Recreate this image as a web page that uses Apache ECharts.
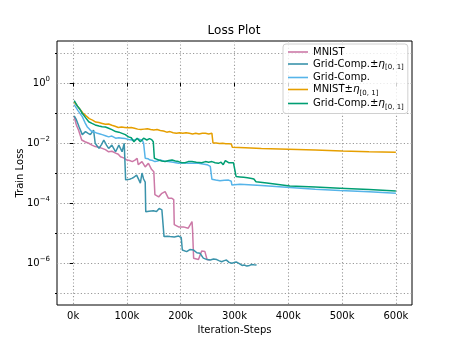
<!DOCTYPE html>
<html>
<head>
<meta charset="utf-8">
<script src="https://cdn.jsdelivr.net/npm/echarts@6/dist/echarts.min.js"></script>
<style>
  html, body { margin: 0; background: #fff; }
  #chart { width: 458px; height: 343px; }
</style>
</head>
<body>
<div id="chart"></div>
<script>
// x = iteration steps in thousands, y = train loss
const xTicks = [0, 100, 200, 300, 400, 500, 600]
const yMajorExps = [-6, -4, -2, 0]
const yMinorExps = [-7, -5, -3, -1, 1]

const mnist = [
  [2, 7.5e-2], [6, 4.0e-2], [10, 2.7e-2], [16, 1.26e-2], [22, 1.1e-2], [29, 9.8e-3],
  [35, 8.5e-3], [41, 7.6e-3], [48, 7.2e-3], [54, 6.6e-3], [60, 6.0e-3], [66, 5.1e-3],
  [72, 5.3e-3], [79, 4.6e-3], [84, 4.2e-3], [88, 3.5e-3], [94, 3.2e-3], [100, 2.7e-3],
  [105, 2.6e-3], [110, 2.4e-3], [115, 2.7e-3], [119, 3.1e-3], [121, 1.9e-3], [128, 2.4e-3],
  [134, 1.6e-3], [140, 2.1e-3], [146, 1.3e-3], [150, 1.1e-3], [152, 1.9e-4], [159, 1.6e-4],
  [165, 2.1e-4], [171, 2.4e-4], [177, 1.45e-4], [183, 1.45e-4], [187, 1.3e-4], [188, 1.9e-5],
  [196, 1.6e-5], [205, 1.6e-5], [214, 1.45e-5], [221, 2.4e-5], [222, 1.3e-5], [224, 1.45e-6],
  [233, 1.3e-6], [239, 2.5e-6], [245, 2.4e-6], [249, 1.3e-6], [254, 1.25e-6]
]

const gridEtaA = [
  [2, 8.0e-2], [6, 6.0e-2], [11, 3.5e-2], [17, 1.9e-2], [23, 2.4e-2], [28, 2.1e-2],
  [32, 1.9e-2], [38, 2.7e-2], [41, 9.8e-3], [48, 6.6e-3], [53, 9.0e-3], [57, 1.26e-2],
  [62, 8.5e-3], [66, 6.6e-3], [72, 8.5e-3], [79, 5.1e-3], [85, 8.5e-3], [91, 5.1e-3],
  [95, 9.8e-3], [97.6, 5.9e-4], [100, 5.5e-4], [105, 6.2e-4], [109, 6.6e-4], [113, 7.2e-4],
  [118, 8.5e-4], [122, 6.0e-4], [125, 4.6e-4], [128, 1.0e-3], [131, 6.3e-4], [134, 5.0e-4],
  [135, 5.1e-5], [141, 5.3e-5], [149, 5.5e-5], [155, 5.2e-5], [160, 6.6e-5], [165, 5.9e-5],
  [168, 6.2e-5], [169, 7.6e-6], [175, 7.8e-6], [180, 7.6e-6], [188, 7.3e-6], [196, 7.9e-6],
  [198, 9.0e-6], [201, 7.1e-6], [203, 2.7e-6], [211, 2.4e-6], [217, 2.8e-6], [224, 2.7e-6],
  [230, 2.2e-6], [236, 2.1e-6], [242, 1.45e-6], [249, 1.3e-6], [255, 1.26e-6], [261, 1.35e-6],
  [267, 1.3e-6], [271, 1.2e-6], [276, 1.1e-6], [281, 1.2e-6], [285, 1.25e-6], [290, 1.05e-6],
  [295, 9.8e-7], [300, 1.05e-6], [304, 1.07e-6], [309, 9.5e-7], [314, 8.3e-7], [318, 8.6e-7],
  [323, 7.9e-7], [328, 8.3e-7], [332, 8.9e-7], [336, 8.7e-7], [341, 8.5e-7]
]

const gridComp = [
  [2, 1.9e-1], [9, 1.2e-1], [17, 7.6e-2], [22, 4.8e-2], [26, 3.5e-2], [31, 2.8e-2],
  [35, 2.4e-2], [40, 2.3e-2], [45, 2.1e-2], [50, 2.0e-2], [54, 1.9e-2], [60, 1.75e-2],
  [66, 1.6e-2], [72, 1.7e-2], [79, 1.45e-2], [85, 1.5e-2], [91, 1.45e-2], [97, 1.4e-2],
  [103, 1.3e-2], [109, 1.26e-2], [115, 1.26e-2], [120, 1.4e-2], [125, 1.3e-2], [129, 1.2e-2],
  [131, 9.8e-3], [134, 3.1e-3], [139, 3.0e-3], [143, 2.7e-3], [148, 2.6e-3], [152, 2.4e-3],
  [157, 2.5e-3], [162, 2.7e-3], [168, 2.5e-3], [177, 2.4e-3], [186, 2.3e-3], [196, 2.1e-3],
  [205, 2.2e-3], [214, 2.1e-3], [224, 2.1e-3], [233, 2.1e-3], [241, 2.0e-3], [249, 1.9e-3],
  [255, 1.66e-3], [258, 6.2e-4], [265, 5.8e-4], [273, 5.5e-4], [281, 5.7e-4], [289, 5.8e-4],
  [294, 5.3e-4], [295, 4.0e-4], [310, 4.2e-4], [350, 3.8e-4], [403, 3.3e-4], [450, 2.9e-4],
  [496, 2.6e-4], [550, 2.35e-4], [600, 2.1e-4]
]

const mnistEta = [
  [2, 2.3e-1], [8, 1.7e-1], [13, 1.3e-1], [18, 1.0e-1], [24, 8.0e-2], [30, 6.5e-2],
  [36, 5.8e-2], [42, 5.0e-2], [48, 4.8e-2], [54, 4.5e-2], [60, 4.2e-2], [66, 4.3e-2],
  [72, 3.9e-2], [78, 3.6e-2], [84, 3.3e-2], [90, 3.4e-2], [96, 3.3e-2], [102, 3.2e-2],
  [108, 3.3e-2], [114, 3.1e-2], [120, 2.9e-2], [126, 2.8e-2], [132, 2.9e-2], [138, 3.0e-2],
  [144, 2.8e-2], [150, 2.7e-2], [156, 2.8e-2], [162, 2.6e-2], [168, 2.5e-2], [174, 2.3e-2],
  [180, 2.4e-2], [186, 2.2e-2], [192, 2.1e-2], [198, 2.2e-2], [204, 2.1e-2], [210, 2.2e-2],
  [216, 2.1e-2], [222, 2.0e-2], [228, 2.1e-2], [234, 2.0e-2], [240, 2.1e-2], [246, 2.1e-2],
  [252, 2.0e-2], [258, 2.1e-2], [260, 1.0e-2], [266, 1.0e-2], [272, 9.7e-3], [278, 9.8e-3],
  [284, 9.5e-3], [290, 9.4e-3], [294, 9.3e-3], [296, 7.2e-3], [320, 6.9e-3], [350, 6.5e-3],
  [400, 6.2e-3], [450, 5.8e-3], [500, 5.4e-3], [550, 5.1e-3], [600, 4.9e-3]
]

const gridEtaB = [
  [2, 2.6e-1], [8, 1.7e-1], [13, 1.3e-1], [17, 9.8e-2], [23, 7.0e-2], [29, 5.1e-2],
  [35, 4.5e-2], [41, 4.0e-2], [48, 3.7e-2], [54, 3.5e-2], [60, 3.4e-2], [66, 3.1e-2],
  [72, 2.8e-2], [79, 2.4e-2], [85, 2.3e-2], [91, 2.1e-2], [97, 1.9e-2], [103, 1.6e-2],
  [108, 1.5e-2], [113, 1.1e-2], [119, 1.45e-2], [125, 1.1e-2], [131, 1.45e-2], [137, 1.26e-2],
  [142, 1.4e-2], [146, 1.3e-2], [149, 1.1e-2], [151, 3.1e-3], [155, 2.9e-3], [159, 2.7e-3],
  [165, 2.5e-3], [171, 2.4e-3], [178, 2.6e-3], [184, 2.7e-3], [190, 2.5e-3], [196, 2.4e-3],
  [202, 2.2e-3], [208, 2.2e-3], [214, 2.4e-3], [221, 2.4e-3], [229, 2.3e-3], [239, 2.2e-3],
  [246, 2.4e-3], [252, 2.3e-3], [258, 2.4e-3], [264, 2.2e-3], [270, 2.1e-3], [275, 2.3e-3],
  [279, 1.9e-3], [283, 2.6e-3], [285, 2.4e-3], [289, 2.2e-3], [292, 2.1e-3], [298, 2.2e-3],
  [301, 2.0e-3], [303, 7.6e-4], [310, 7.4e-4], [317, 7.2e-4], [324, 7.0e-4], [332, 6.6e-4],
  [336, 6.3e-4], [340, 5.1e-4], [360, 4.6e-4], [403, 3.7e-4], [450, 3.4e-4], [496, 3.1e-4],
  [550, 2.8e-4], [600, 2.5e-4]
]

const FONT = 'DejaVu Sans'
const etaLabel = (head) => `{t|${head}±}{i|η}{s|[0, 1]}`
const legendText = {
  mnist: '{t|MNIST}',
  gridEtaA: etaLabel('Grid-Comp.'),
  gridComp: '{t|Grid-Comp.}',
  mnistEta: etaLabel('MNIST'),
  gridEtaB: etaLabel('Grid-Comp.')
}

const lines = [
  { name: 'mnist', data: mnist, color: '#CC79A7' },
  { name: 'gridEtaA', data: gridEtaA, color: '#3a93ab' },
  { name: 'gridComp', data: gridComp, color: '#56B4E9' },
  { name: 'mnistEta', data: mnistEta, color: '#E69F00' },
  { name: 'gridEtaB', data: gridEtaB, color: '#009E73' }
]

const dotted = { type: [1.2, 2.2], color: '#9a9a9a', width: 1.1 }

const chart = echarts.init(document.getElementById('chart'))
chart.setOption({
  animation: false,
  title: {
    text: 'Loss Plot', left: 234, top: 25, padding: 0, textAlign: 'center',
    textStyle: { fontFamily: FONT, fontSize: 12, fontWeight: 'normal', color: '#000' }
  },
  grid: {
    left: 57, right: 46, top: 41, bottom: 38,
    show: true, borderColor: '#000', borderWidth: 1, backgroundColor: '#fff'
  },
  legend: {
    orient: 'vertical', left: 283, top: 44,
    padding: [3, 4, 3, 5], itemGap: 1.5, itemWidth: 20, itemHeight: 1.6,
    icon: 'rect',
    backgroundColor: 'rgba(255,255,255,0.8)', borderColor: '#d0d0d0', borderWidth: 1, borderRadius: 3,
    data: lines.map(l => l.name),
    formatter: name => legendText[name],
    textStyle: {
      rich: {
        t: { fontFamily: FONT, fontSize: 10, color: '#000', lineHeight: 14 },
        i: { fontFamily: FONT, fontSize: 10.5, fontStyle: 'italic', color: '#000', lineHeight: 14 },
        s: { fontFamily: FONT, fontSize: 7, color: '#000', lineHeight: 8, verticalAlign: 'bottom' }
      }
    }
  },
  xAxis: {
    type: 'value', min: -30, max: 630,
    name: 'Iteration-Steps', nameLocation: 'middle', nameGap: 20, nameMoveOverlap: false,
    nameTextStyle: { fontFamily: FONT, fontSize: 10, color: '#000' },
    axisLine: { show: false },
    axisTick: { customValues: xTicks, length: 3.5, lineStyle: { color: '#000' } },
    axisLabel: {
      customValues: xTicks, formatter: v => v + 'k', margin: 6,
      fontFamily: FONT, fontSize: 10, color: '#000'
    },
    splitLine: { show: true, lineStyle: dotted }
  },
  yAxis: [
    {
      type: 'value', min: -7.4, max: 1.4, position: 'left',
      name: 'Train Loss', nameLocation: 'middle', nameGap: 32, nameMoveOverlap: false,
      nameTextStyle: { fontFamily: FONT, fontSize: 10, color: '#000' },
      axisLine: { show: false },
      axisTick: { customValues: yMajorExps, length: 3.5, lineStyle: { color: '#000' } },
      axisLabel: {
        customValues: yMajorExps, margin: 7,
        formatter: v => `{b|10}{e|${v < 0 ? '\u2212' + (-v) : v}}`,
        rich: {
          b: { fontFamily: FONT, fontSize: 10, color: '#000', lineHeight: 14 },
          e: { fontFamily: FONT, fontSize: 7, color: '#000', lineHeight: 8, verticalAlign: 'top' }
        }
      },
      splitLine: { show: true, lineStyle: dotted }
    },
    {
      type: 'value', min: -7.4, max: 1.4, position: 'left',
      axisLine: { show: false },
      axisTick: { customValues: yMinorExps, length: 2, lineStyle: { color: '#000' } },
      axisLabel: { show: false },
      splitLine: { show: true, lineStyle: dotted }
    }
  ],
  series: lines.map(l => ({
    name: l.name, type: 'line', symbol: 'none',
    color: l.color,
    lineStyle: { color: l.color, width: 1.5 },
    data: l.data.map(([k, loss]) => [k, Math.log10(loss)])
  }))
})
</script>
</body>
</html>
